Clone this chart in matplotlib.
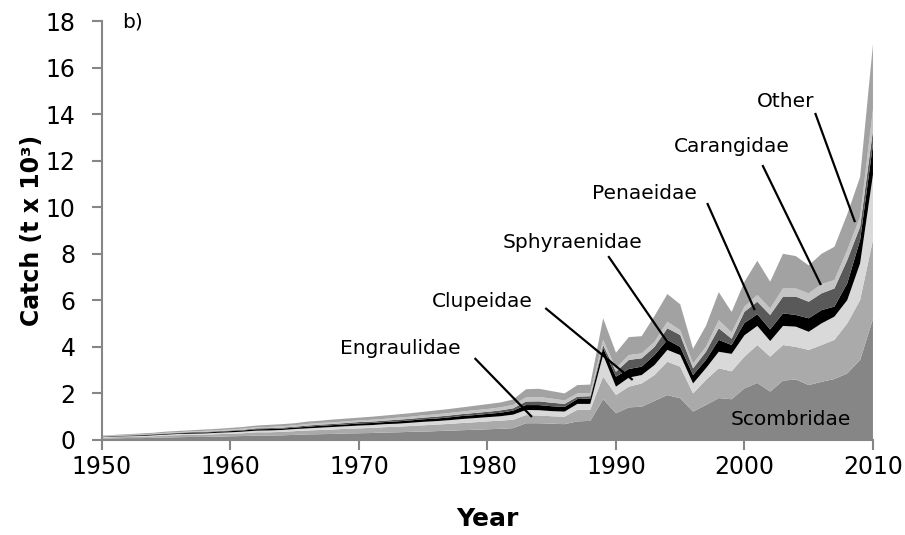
import matplotlib
matplotlib.use("Agg")
import matplotlib.pyplot as plt
import numpy as np

# Years and catch by family (t x 10^3)
years = list(range(1950, 2011))

scombridae = [0.06, 0.07, 0.08, 0.08, 0.09, 0.11, 0.12, 0.13, 0.13, 0.14,
              0.16, 0.17, 0.19, 0.19, 0.20, 0.22, 0.24, 0.25, 0.26, 0.28,
              0.29, 0.30, 0.32, 0.33, 0.35, 0.36, 0.38, 0.40, 0.42, 0.44,
              0.46, 0.48, 0.51, 0.72, 0.72, 0.70, 0.68, 0.80, 0.82, 1.75,
              1.15, 1.40, 1.43, 1.68, 1.93, 1.79, 1.22, 1.50, 1.80, 1.75,
              2.22, 2.45, 2.08, 2.55, 2.60, 2.36, 2.50, 2.62, 2.86, 3.44,
              5.20]
engraulidae = [0.04, 0.05, 0.05, 0.06, 0.07, 0.08, 0.09, 0.09, 0.10, 0.11,
               0.11, 0.12, 0.14, 0.14, 0.15, 0.16, 0.17, 0.18, 0.19, 0.20,
               0.21, 0.22, 0.23, 0.24, 0.25, 0.27, 0.28, 0.29, 0.31, 0.32,
               0.34, 0.35, 0.36, 0.35, 0.33, 0.32, 0.32, 0.50, 0.48, 0.97,
               0.78, 0.89, 1.00, 1.11, 1.43, 1.36, 0.78, 1.08, 1.28, 1.20,
               1.36, 1.63, 1.50, 1.53, 1.40, 1.51, 1.58, 1.68, 2.15, 2.57,
               3.40]
clupeidae = [0.02, 0.03, 0.03, 0.03, 0.04, 0.04, 0.05, 0.05, 0.05, 0.06,
             0.06, 0.07, 0.07, 0.08, 0.08, 0.09, 0.09, 0.10, 0.11, 0.11,
             0.12, 0.12, 0.13, 0.13, 0.14, 0.15, 0.15, 0.16, 0.17, 0.18,
             0.18, 0.19, 0.22, 0.22, 0.23, 0.22, 0.22, 0.25, 0.25, 0.93,
             0.36, 0.39, 0.36, 0.43, 0.51, 0.50, 0.43, 0.50, 0.71, 0.75,
             0.92, 0.82, 0.67, 0.82, 0.87, 0.78, 0.93, 1.00, 1.00, 1.58,
             2.80]
sphyraenidae = [0.02, 0.02, 0.02, 0.03, 0.03, 0.03, 0.03, 0.04, 0.04, 0.04,
                0.05, 0.05, 0.06, 0.06, 0.06, 0.06, 0.07, 0.08, 0.08, 0.08,
                0.09, 0.09, 0.09, 0.10, 0.10, 0.11, 0.11, 0.12, 0.13, 0.13,
                0.14, 0.15, 0.17, 0.21, 0.22, 0.21, 0.20, 0.21, 0.23, 0.30,
                0.43, 0.37, 0.36, 0.43, 0.43, 0.35, 0.36, 0.36, 0.51, 0.38,
                0.53, 0.50, 0.50, 0.54, 0.50, 0.58, 0.57, 0.43, 0.72, 1.00,
                1.30]
penaeidae = [0.01, 0.01, 0.02, 0.02, 0.02, 0.02, 0.02, 0.03, 0.03, 0.03,
             0.03, 0.03, 0.04, 0.04, 0.04, 0.04, 0.05, 0.05, 0.05, 0.06,
             0.06, 0.06, 0.06, 0.07, 0.07, 0.07, 0.08, 0.08, 0.08, 0.09,
             0.09, 0.10, 0.10, 0.15, 0.16, 0.15, 0.13, 0.10, 0.10, 0.13,
             0.21, 0.39, 0.36, 0.35, 0.50, 0.51, 0.29, 0.35, 0.50, 0.27,
             0.48, 0.54, 0.62, 0.72, 0.79, 0.71, 0.72, 0.78, 1.00, 0.57,
             0.60]
carangidae = [0.02, 0.02, 0.02, 0.02, 0.02, 0.03, 0.03, 0.03, 0.04, 0.04,
              0.04, 0.05, 0.05, 0.05, 0.06, 0.06, 0.07, 0.07, 0.07, 0.07,
              0.07, 0.08, 0.08, 0.09, 0.09, 0.10, 0.10, 0.11, 0.11, 0.12,
              0.12, 0.13, 0.15, 0.18, 0.19, 0.18, 0.15, 0.14, 0.14, 0.22,
              0.15, 0.21, 0.21, 0.22, 0.28, 0.21, 0.21, 0.21, 0.35, 0.27,
              0.22, 0.29, 0.28, 0.35, 0.35, 0.36, 0.40, 0.36, 0.43, 0.43,
              0.90]
other = [0.02, 0.02, 0.03, 0.04, 0.04, 0.05, 0.05, 0.05, 0.06, 0.06,
         0.07, 0.07, 0.07, 0.09, 0.09, 0.09, 0.10, 0.10, 0.12, 0.12,
         0.12, 0.13, 0.14, 0.14, 0.15, 0.15, 0.17, 0.17, 0.18, 0.19,
         0.21, 0.21, 0.23, 0.35, 0.35, 0.32, 0.30, 0.36, 0.36, 0.93,
         0.67, 0.77, 0.74, 1.11, 1.19, 1.11, 0.63, 0.90, 1.20, 0.88,
         1.07, 1.47, 1.15, 1.49, 1.39, 1.20, 1.30, 1.43, 1.54, 1.71,
         2.80]

families = ["Scombridae", "Engraulidae", "Clupeidae", "Sphyraenidae",
            "Penaeidae", "Carangidae", "Other"]
colors = ["#868686", "#aaaaaa", "#d9d9d9", "#000000",
          "#595959", "#c4c4c4", "#a2a2a2"]

fig = plt.figure(figsize=(9.05, 5.35), dpi=100)
ax = fig.add_axes([0.1127, 0.1776, 0.8519, 0.7831])

ax.stackplot(years, scombridae, engraulidae, clupeidae, sphyraenidae,
             penaeidae, carangidae, other, colors=colors, labels=families,
             linewidth=0)

ax.set_xlim(1950, 2010)
ax.set_ylim(0, 18)
ax.set_xticks(range(1950, 2011, 10))
ax.set_yticks(range(0, 19, 2))

for side in ["top", "right"]:
    ax.spines[side].set_visible(False)
for side in ["left", "bottom"]:
    ax.spines[side].set_color("#868686")
    ax.spines[side].set_linewidth(1.5)
ax.tick_params(axis="both", direction="out", length=7, width=1.5,
               color="#868686", labelsize=17)
ax.tick_params(axis="y", pad=12)
ax.tick_params(axis="x", pad=4)

ax.set_xlabel("Year", fontsize=18, fontweight="bold", labelpad=20)
ax.set_ylabel("Catch (t x 10\u00b3)", fontsize=17, fontweight="bold",
              labelpad=1)

# family labels with leader lines
label_pos = {
    "Engraulidae": (1973.2, 3.95),
    "Clupeidae": (1979.6, 5.93),
    "Sphyraenidae": (1986.6, 8.5),
    "Penaeidae": (1992.2, 10.61),
    "Carangidae": (1999.0, 12.59),
    "Other": (2003.2, 14.56),
}
leaders = {
    "Engraulidae": ((1979.0, 3.52), (1983.46, 0.99)),
    "Clupeidae": ((1984.5, 5.67), (1991.3, 2.58)),
    "Sphyraenidae": ((1989.4, 7.90), (1994.0, 4.21)),
    "Penaeidae": ((1997.1, 10.18), (2000.8, 5.58)),
    "Carangidae": ((2001.4, 11.81), (2005.95, 6.66)),
    "Other": ((2005.5, 14.05), (2008.6, 9.36)),
}
for name, (lx, ly) in label_pos.items():
    ax.text(lx, ly, name, fontsize=14.5, ha="center", va="center")
    (x0, y0), (x1, y1) = leaders[name]
    ax.plot([x0, x1], [y0, y1], color="black", lw=1.6, solid_capstyle="butt")

ax.text(2003.6, 0.86, "Scombridae", fontsize=14.5, ha="center", va="center")
ax.text(1952.4, 17.96, "b)", fontsize=14.5, ha="center", va="center")

fig.savefig("out.png", dpi=100)
